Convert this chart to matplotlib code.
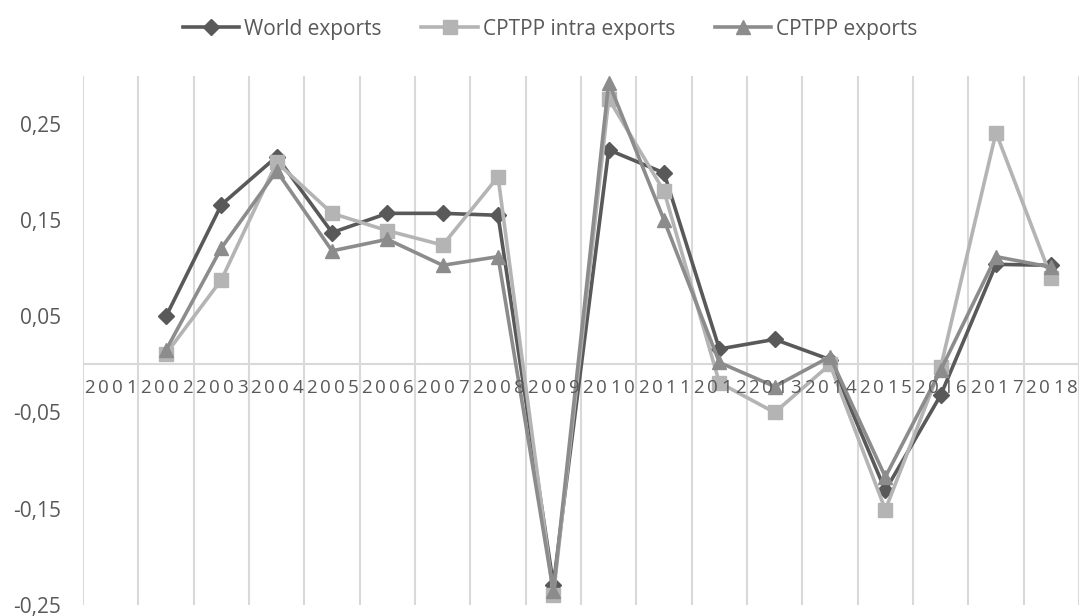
import matplotlib.pyplot as plt
import numpy as np

plt.rcParams['font.family'] = ['Open Sans', 'DejaVu Sans']

# Annual growth rates
years = list(range(2001, 2019))
world = [np.nan, 0.050, 0.166, 0.216, 0.137, 0.157, 0.157, 0.155, -0.229, 0.223,
         0.199, 0.016, 0.026, 0.005, -0.131, -0.032, 0.104, 0.103]
cptpp_intra = [np.nan, 0.011, 0.088, 0.210, 0.157, 0.139, 0.124, 0.195, -0.240, 0.276,
               0.180, -0.019, -0.050, 0.000, -0.151, -0.003, 0.241, 0.090]
cptpp = [np.nan, 0.015, 0.121, 0.201, 0.118, 0.130, 0.103, 0.112, -0.236, 0.293,
         0.150, 0.002, -0.023, 0.008, -0.117, -0.006, 0.112, 0.101]

x = np.arange(len(years))
text_col = '#595959'
grid_col = '#D9D9D9'

fig = plt.figure(figsize=(10.79, 6.16), dpi=100)
ax = fig.add_axes([0.077, 0.018, 0.923, 0.859])

# category separators and zero line
for b in np.arange(-0.5, len(years), 1.0):
    ax.axvline(b, color=grid_col, lw=1.5, zorder=0)
ax.axhline(0, color=grid_col, lw=1.5, zorder=0)

ax.plot(x, world, color='#595959', lw=2.6, marker='D', ms=8, label='World exports', zorder=3)
ax.plot(x, cptpp_intra, color='#B4B4B4', lw=2.6, marker='s', ms=9.5, label='CPTPP intra exports', zorder=3)
ax.plot(x, cptpp, color='#8C8C8C', lw=2.6, marker='^', ms=10.5, label='CPTPP exports', zorder=3)

ax.set_xlim(-0.5, len(years) - 0.5)
ax.set_ylim(-0.25, 0.30)

yt = [-0.25, -0.15, -0.05, 0.05, 0.15, 0.25]
ax.set_yticks(yt)
ax.set_yticklabels([f'{v:.2f}'.replace('.', ',') for v in yt], fontsize=15, color=text_col)
ax.tick_params(axis='y', length=0, pad=16)
ax.set_xticks([])
for s in ax.spines.values():
    s.set_visible(False)

# year labels under the zero line, digits spread out one by one
for xi, yr in zip(x, years):
    for i, ch in enumerate(str(yr)):
        ax.annotate(ch, (xi, 0), xytext=((i - 1.5) * 10.1, -17), textcoords='offset points',
                    ha='center', va='center', fontsize=13.5, color=text_col)

fig.legend(loc='upper center', bbox_to_anchor=(0.51, 1.0), ncol=3, frameon=False,
           fontsize=15, labelcolor=text_col, handlelength=2.7, columnspacing=1.9,
           handletextpad=0.25)

fig.savefig('out.png', dpi=100)
